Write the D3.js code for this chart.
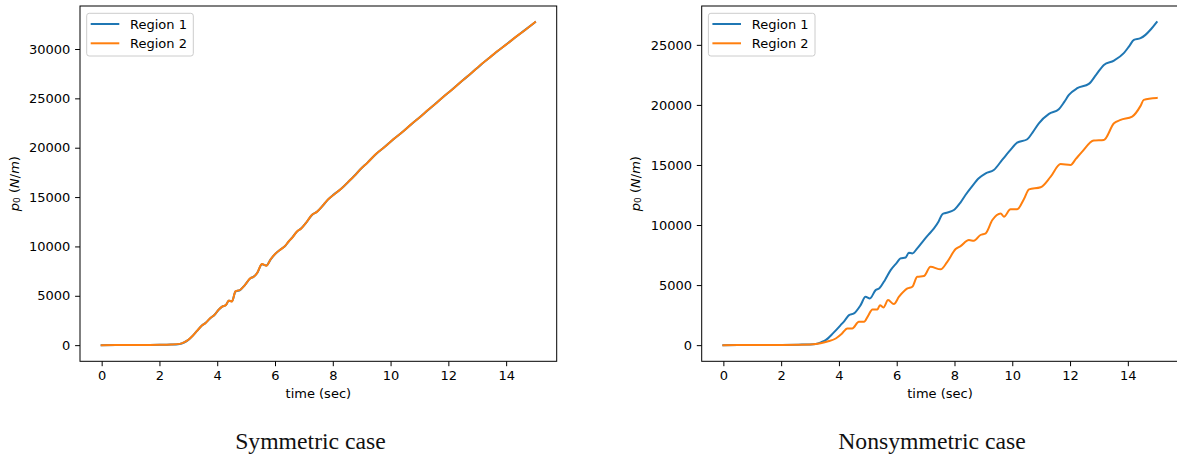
<!DOCTYPE html>
<html>
<head>
<meta charset="utf-8">
<script src="https://cdn.jsdelivr.net/npm/d3@7"></script>
<style>
  body { margin: 0; background: #fff; }
  svg { display: block; }
</style>
</head>
<body>
<svg id="fig" width="1177" height="457"></svg>
<script>
// ---- data -------------------------------------------------------------
const seriesNames = ["Region 1", "Region 2"];
const captions = ["Symmetric case", "Nonsymmetric case"];
const xTicks = [0, 2, 4, 6, 8, 10, 12, 14];
const yTicksSym = [0, 5000, 10000, 15000, 20000, 25000, 30000];
const yTicksNonsym = [0, 5000, 10000, 15000, 20000, 25000];

// symmetric case (both regions share the time samples)
const timeSym = [0, 0.5, 1, 1.5, 2, 2.4, 2.7, 2.85, 3.0, 3.15, 3.3, 3.47, 3.6, 3.76, 3.9,
  4.05, 4.17, 4.3, 4.4, 4.51, 4.63, 4.8, 4.95, 5.15, 5.25, 5.38, 5.55, 5.7, 5.85, 6.01,
  6.2, 6.35, 6.47, 6.6, 6.76, 6.9, 7.1, 7.28, 7.45, 7.68, 7.85, 8.03, 8.3, 8.61, 8.8,
  8.95, 9.2, 9.5, 9.8, 10.1, 10.4, 10.7, 11.0, 11.3, 11.6, 11.9, 12.2, 12.5, 12.8, 13.1,
  13.4, 13.7, 14.0, 14.3, 14.6, 15.0];
const symRegion1 = [0, 5, 10, 20, 30, 55, 125, 270, 530, 940, 1440, 1980, 2260, 2730, 3060,
  3590, 3900, 4060, 4500, 4440, 5420, 5600, 6060, 6780, 6910, 7290, 8190, 8060, 8690, 9250,
  9710, 10040, 10490, 10910, 11500, 11810, 12490, 13190, 13510, 14220, 14790, 15250, 15860, 16750, 17310,
  17790, 18490, 19370, 20100, 20860, 21570, 22330, 23070, 23830, 24570, 25330, 26070, 26830, 27570, 28340,
  29070, 29780, 30450, 31140, 31810, 32710];
const symRegion2 = [0, 5, 10, 20, 30, 60, 130, 280, 540, 950, 1450, 1990, 2250, 2740, 3050,
  3600, 3910, 4050, 4520, 4420, 5440, 5610, 6050, 6790, 6900, 7300, 8210, 8040, 8700, 9260,
  9700, 10050, 10500, 10900, 11520, 11800, 12500, 13210, 13500, 14230, 14800, 15240, 15870, 16760, 17300,
  17800, 18480, 19380, 20090, 20870, 21560, 22340, 23060, 23840, 24560, 25340, 26060, 26840, 27560, 28350,
  29060, 29790, 30440, 31150, 31800, 32720];

// nonsymmetric case
const timeNonsym1 = [0, 1, 2, 2.6, 3.0, 3.2, 3.4, 3.54, 3.8, 4.06, 4.2, 4.35, 4.52, 4.75, 4.92,
  5.07, 5.27, 5.39, 5.6, 5.79, 6.0, 6.13, 6.31, 6.42, 6.54, 6.71, 6.94, 7.1, 7.29, 7.45,
  7.58, 7.69, 7.98, 8.2, 8.38, 8.6, 8.84, 9.08, 9.36, 9.65, 9.9, 10.17, 10.52, 10.7, 10.92,
  11.27, 11.61, 11.8, 11.96, 12.25, 12.65, 12.9, 13.17, 13.52, 13.86, 14.05, 14.21, 14.44, 14.61, 14.8, 15.0];
const nonsymRegion1 = [0, 10, 20, 40, 60, 100, 260, 417, 1000, 1670, 2050, 2500, 2640, 3330, 4030,
  3890, 4580, 4720, 5450, 6250, 6850, 7220, 7300, 7690, 7640, 8060, 8750, 9200, 9720, 10300,
  10900, 11000, 11250, 11850, 12500, 13200, 13890, 14310, 14580, 15420, 16150, 16860, 17140, 17700, 18470,
  19250, 19640, 20250, 20830, 21390, 21750, 22500, 23330, 23690, 24310, 24900, 25420, 25560, 25830, 26300, 26890];
const timeNonsym2 = [0, 1, 2, 2.6, 3.0, 3.37, 3.6, 3.89, 4.1, 4.29, 4.46, 4.69, 4.87, 5.0, 5.16,
  5.33, 5.42, 5.54, 5.7, 5.9, 6.08, 6.37, 6.54, 6.71, 6.94, 7.17, 7.52, 7.75, 8.04, 8.21,
  8.5, 8.67, 8.9, 9.08, 9.31, 9.6, 9.71, 9.94, 10.17, 10.4, 10.58, 10.98, 11.33, 11.67, 12.02,
  12.2, 12.42, 12.82, 13.17, 13.52, 13.75, 14.15, 14.44, 14.55, 15.0];
const nonsymRegion2 = [0, 10, 20, 30, 50, 150, 300, 555, 950, 1390, 1390, 1940, 1940, 2400, 2970,
  2970, 3330, 3140, 3750, 3420, 4030, 4720, 4860, 5690, 5750, 6525, 6310, 6940, 8000, 8250,
  8750, 8690, 9170, 9310, 10420, 10970, 10690, 11310, 11310, 12150, 12970, 13140, 14030, 15080, 15000,
  15500, 16110, 17030, 17080, 18470, 18750, 19030, 19920, 20420, 20580];

const colors = ["#1f77b4", "#ff7f0e"];

// ---- layout -----------------------------------------------------------
const panels = [
  { left: 80, top: 6, width: 476.7, height: 355.3, yTicks: yTicksSym,
    series: [[timeSym, symRegion1], [timeSym, symRegion2]],
    ylabelX: 13.5, captionX: 310.5 },
  { left: 701.7, top: 6, width: 476.7, height: 355.3, yTicks: yTicksNonsym,
    series: [[timeNonsym1, nonsymRegion1], [timeNonsym2, nonsymRegion2]],
    ylabelX: 635, captionX: 932 }
];

const svg = d3.select("#fig");
const tickFont = "'DejaVu Sans', sans-serif";

panels.forEach((p, pi) => {
  const allT = p.series.flatMap(s => s[0]);
  const allV = p.series.flatMap(s => s[1]);
  const [tMin, tMax] = d3.extent(allT);
  const [vMin, vMax] = d3.extent(allV);
  const tPad = (tMax - tMin) * 0.05, vPad = (vMax - vMin) * 0.05;

  const x = d3.scaleLinear().domain([tMin - tPad, tMax + tPad]).range([0, p.width]);
  const y = d3.scaleLinear().domain([vMin - vPad, vMax + vPad]).range([p.height, 0]);

  const g = svg.append("g").attr("transform", `translate(${p.left},${p.top})`);

  const clipId = "clip" + pi;
  g.append("clipPath").attr("id", clipId)
    .append("rect").attr("width", p.width).attr("height", p.height);

  // data lines
  const line = d3.line().x(d => x(d[0])).y(d => y(d[1])).curve(d3.curveMonotoneX);
  const plot = g.append("g").attr("clip-path", `url(#${clipId})`);
  p.series.forEach((s, si) => {
    const pts = s[0].map((t, i) => [t, s[1][i]]);
    plot.append("path").datum(pts)
      .attr("d", line)
      .attr("fill", "none")
      .attr("stroke", colors[si])
      .attr("stroke-width", 2)
      .attr("stroke-linejoin", "round")
      .attr("stroke-linecap", "square");
  });

  // axes
  const xAxis = d3.axisBottom(x).tickValues(xTicks).tickSize(4.9).tickPadding(4.8).tickSizeOuter(0)
    .tickFormat(d3.format("d"));
  const yAxis = d3.axisLeft(y).tickValues(p.yTicks).tickSize(4.9).tickPadding(4.8).tickSizeOuter(0)
    .tickFormat(d3.format("d"));

  const gx = g.append("g").attr("transform", `translate(0,${p.height})`).call(xAxis);
  const gy = g.append("g").call(yAxis);
  [gx, gy].forEach(a => {
    a.select(".domain").remove();
    a.selectAll(".tick line").attr("stroke", "#000").attr("stroke-width", 1);
    a.selectAll(".tick text").attr("fill", "#000")
      .style("font-family", tickFont).style("font-size", "13px");
  });

  // spines
  g.append("rect")
    .attr("x", 0).attr("y", 0).attr("width", p.width).attr("height", p.height)
    .attr("fill", "none").attr("stroke", "#000").attr("stroke-width", 1);

  // axis labels
  g.append("text")
    .attr("x", p.width / 2).attr("y", p.height + 36.5)
    .attr("text-anchor", "middle")
    .style("font-family", tickFont).style("font-size", "13px")
    .text("time (sec)");

  const yl = svg.append("text")
    .attr("transform", `translate(${p.ylabelX},${p.top + p.height / 2}) rotate(-90)`)
    .attr("text-anchor", "middle")
    .attr("dominant-baseline", "central")
    .style("font-family", tickFont).style("font-size", "13px");
  yl.append("tspan").attr("font-style", "italic").text("p");
  yl.append("tspan").attr("font-size", "9px").attr("dy", "3").text("0");
  yl.append("tspan").attr("dy", "-3").text(" (");
  yl.append("tspan").attr("font-style", "italic").text("N");
  yl.append("tspan").text("/");
  yl.append("tspan").attr("font-style", "italic").text("m");
  yl.append("tspan").text(")");

  // legend
  const lg = g.append("g").attr("transform", "translate(6.7,7.3)");
  lg.append("rect")
    .attr("width", 106.6).attr("height", 42.7).attr("rx", 2.5)
    .attr("fill", "#fff").attr("fill-opacity", 0.8)
    .attr("stroke", "#cccccc").attr("stroke-width", 1);
  seriesNames.forEach((name, i) => {
    const yy = 10.7 + i * 19.3;
    lg.append("line")
      .attr("x1", 4).attr("x2", 32.6).attr("y1", yy).attr("y2", yy)
      .attr("stroke", colors[i]).attr("stroke-width", 2);
    lg.append("text")
      .attr("x", 43.3).attr("y", yy).attr("dy", "0.35em")
      .style("font-family", tickFont).style("font-size", "13px")
      .text(name);
  });

  // caption below the panel
  svg.append("text")
    .attr("x", p.captionX).attr("y", 449.3)
    .attr("text-anchor", "middle")
    .style("font-family", "'Liberation Serif', 'Times New Roman', serif")
    .style("font-size", "23.7px")
    .attr("fill", "#111")
    .text(captions[pi]);
});
</script>
</body>
</html>
